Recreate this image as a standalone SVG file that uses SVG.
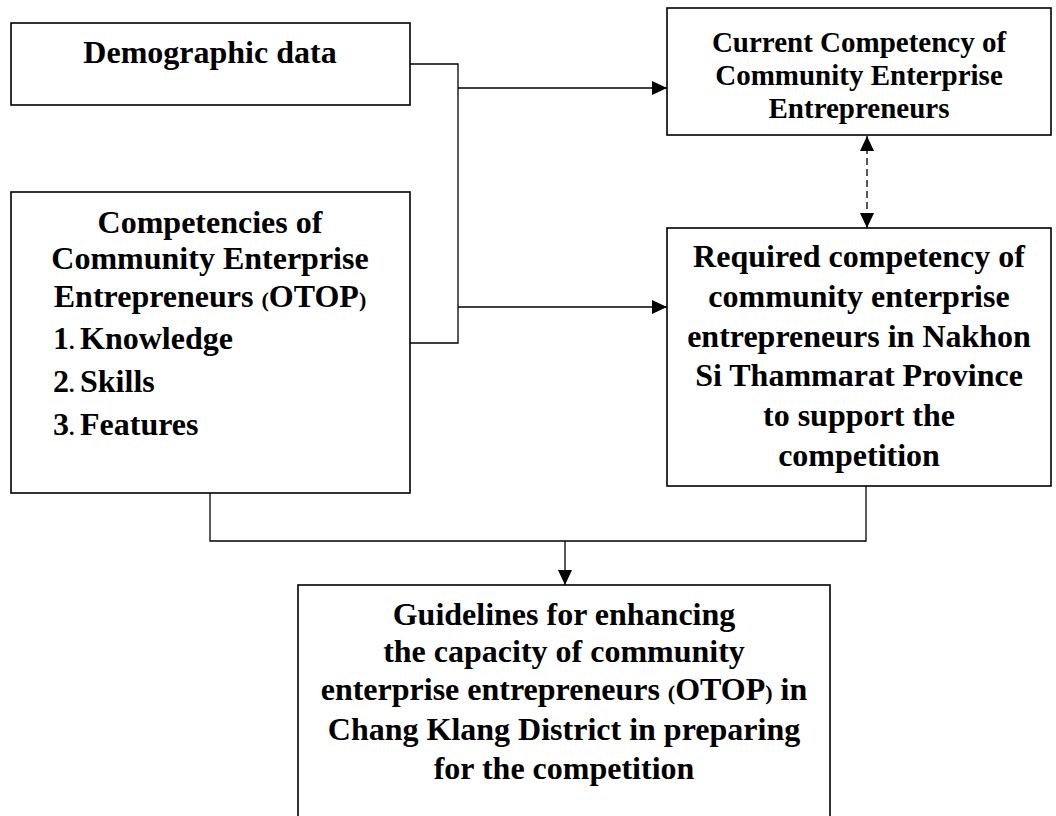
<svg xmlns="http://www.w3.org/2000/svg" width="1056" height="816" viewBox="0 0 1056 816">
<style>
.box{fill:#fff;stroke:#000;stroke-width:1.6}
.t{font-family:"Liberation Serif","Times New Roman",serif;font-weight:bold;font-size:32px;fill:#000}
.c{text-anchor:middle}
.s{font-size:29px}
.p{font-size:22px}
.ln{fill:none;stroke:#000;stroke-width:1.3}
.dash{stroke-dasharray:7 4}
</style>
<defs>
<marker id="ah" viewBox="0 0 15 14" refX="15" refY="7" markerWidth="15" markerHeight="14" markerUnits="userSpaceOnUse" orient="auto-start-reverse">
<path d="M0,0 L15,7 L0,14 Z" fill="#000"/>
</marker>
</defs>
<rect width="1056" height="816" fill="#fff"/>
<g id="connectors">
<polyline class="ln" points="410,64 458,64 458,343 410,343"/>
<line class="ln" x1="458" y1="88" x2="667" y2="88" marker-end="url(#ah)"/>
<line class="ln" x1="458" y1="307" x2="667" y2="307" marker-end="url(#ah)"/>
<line class="ln dash" x1="867" y1="136" x2="867" y2="228" marker-start="url(#ah)" marker-end="url(#ah)"/>
<polyline class="ln" points="210,493 210,541 866,541 866,486"/>
<line class="ln" x1="565" y1="541" x2="565" y2="585" marker-end="url(#ah)"/>
</g>
<g id="demographic">
<rect class="box" x="11" y="23" width="399" height="82"/>
<text class="t c" x="210" y="63">Demographic data</text>
</g>
<g id="competencies">
<rect class="box" x="11" y="192" width="399" height="301"/>
<text class="t c" x="210" y="233">Competencies of</text>
<text class="t c" x="210" y="269">Community Enterprise</text>
<text class="t c" x="210" y="307">Entrepreneurs <tspan class="p">(</tspan>OTOP<tspan class="p">)</tspan></text>
<text class="t" x="53" y="349">1<tspan class="p">.</tspan><tspan x="80">Knowledge</tspan></text>
<text class="t" x="53" y="392">2<tspan class="p">.</tspan><tspan x="80">Skills</tspan></text>
<text class="t" x="53" y="435">3<tspan class="p">.</tspan><tspan x="80">Features</tspan></text>
</g>
<g id="current">
<rect class="box" x="667" y="8" width="384" height="127"/>
<text class="t c s" x="859" y="52">Current Competency of</text>
<text class="t c s" x="859" y="85">Community Enterprise</text>
<text class="t c s" x="859" y="118">Entrepreneurs</text>
</g>
<g id="required">
<rect class="box" x="667" y="228" width="384" height="258"/>
<text class="t c" x="859" y="267">Required competency of</text>
<text class="t c" x="859" y="307">community enterprise</text>
<text class="t c" x="859" y="347">entrepreneurs in Nakhon</text>
<text class="t c" x="859" y="386">Si Thammarat Province</text>
<text class="t c" x="859" y="426">to support the</text>
<text class="t c" x="859" y="466">competition</text>
</g>
<g id="guidelines">
<rect class="box" x="298" y="585" width="532" height="240"/>
<text class="t c" x="564" y="625">Guidelines for enhancing</text>
<text class="t c" x="564" y="662">the capacity of community</text>
<text class="t c" x="564" y="700">enterprise entrepreneurs <tspan class="p">(</tspan>OTOP<tspan class="p">)</tspan> in</text>
<text class="t c" x="564" y="740">Chang Klang District in preparing</text>
<text class="t c" x="564" y="779">for the competition</text>
</g>
</svg>
